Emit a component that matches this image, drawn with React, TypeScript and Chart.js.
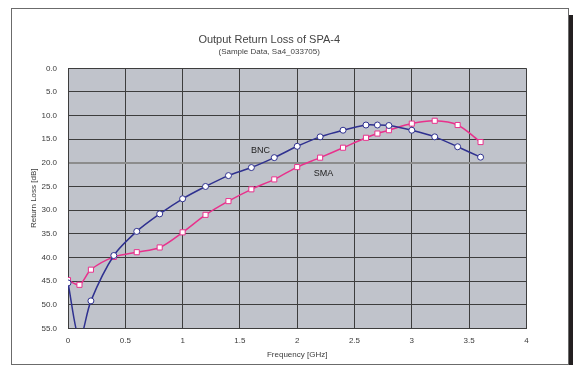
import React, { useEffect, useRef } from "react";
import { Chart, registerables } from "chart.js";

Chart.register(...registerables);

const frequencies = [0, 0.1, 0.2, 0.4, 0.6, 0.8, 1.0, 1.2, 1.4, 1.6, 1.8, 2.0, 2.2, 2.4, 2.6, 2.7, 2.8, 3.0, 3.2, 3.4, 3.6];
const bncLoss = [45.4, 57.3, 49.2, 39.6, 34.5, 30.8, 27.6, 25.0, 22.7, 21.0, 18.9, 16.5, 14.5, 13.1, 12.0, 12.0, 12.1, 13.1, 14.5, 16.6, 18.8];
const smaLoss = [44.8, 45.8, 42.6, 39.9, 38.9, 37.9, 34.7, 31.0, 28.1, 25.6, 23.5, 20.9, 18.9, 16.8, 14.7, 13.8, 13.1, 11.7, 11.1, 12.0, 15.6];
const seriesNames = ["BNC", "SMA"];
const seriesLabelAt = [
  { x: 1.68, y: 17.3 },
  { x: 2.23, y: 22.2 },
];

const FONT = "'Liberation Sans', Arial, sans-serif";
const TEXT = "#3a3a3a";

const plotBg = {
  id: "plotBg",
  beforeDraw(chart: any) {
    const { ctx, chartArea } = chart;
    ctx.save();
    ctx.fillStyle = "#c0c3cb";
    ctx.fillRect(chartArea.left, chartArea.top, chartArea.right - chartArea.left, chartArea.bottom - chartArea.top);
    ctx.restore();
  },
};

const seriesLabels = {
  id: "seriesLabels",
  afterDatasetsDraw(chart: any) {
    const { ctx, scales } = chart;
    ctx.save();
    ctx.font = `9px ${FONT}`;
    ctx.fillStyle = "#222";
    ctx.textAlign = "center";
    ctx.textBaseline = "middle";
    seriesNames.forEach((name, i) => {
      const p = seriesLabelAt[i];
      ctx.fillText(name, scales.x.getPixelForValue(p.x), scales.y.getPixelForValue(p.y));
    });
    ctx.restore();
  },
};

export default function App() {
  const ref = useRef<HTMLCanvasElement | null>(null);
  useEffect(() => {
    if (!ref.current) return;
    const chart = new Chart(ref.current, {
      type: "line",
      data: {
        datasets: [
          {
            label: seriesNames[0],
            data: frequencies.map((f, i) => ({ x: f, y: bncLoss[i] })),
            borderColor: "#2f3190",
            backgroundColor: "#ffffff",
            borderWidth: 1.5,
            pointStyle: "circle",
            pointRadius: 3,
            pointBorderWidth: 1,
            pointBorderColor: "#2f3190",
            pointBackgroundColor: "#ffffff",
            tension: 0.3,
          },
          {
            label: seriesNames[1],
            data: frequencies.map((f, i) => ({ x: f, y: smaLoss[i] })),
            borderColor: "#e8318c",
            backgroundColor: "#ffffff",
            borderWidth: 1.5,
            pointStyle: "rect",
            pointRadius: 3.6,
            pointBorderWidth: 1,
            pointBorderColor: "#e8318c",
            pointBackgroundColor: "#ffffff",
            tension: 0.3,
          },
        ],
      },
      options: {
        responsive: false,
        animation: false,
        devicePixelRatio: 1,
        layout: { padding: { left: 0, right: 41.6, top: 0, bottom: 0 } },
        elements: { line: { capBezierPoints: false } },
        plugins: {
          legend: { display: false },
          tooltip: { enabled: false },
          title: {
            display: true,
            text: "Output Return Loss of SPA-4",
            color: "#444",
            font: { family: FONT, size: 11, weight: "normal" },
            padding: { top: 24.4, bottom: 0 },
          },
          subtitle: {
            display: true,
            text: "(Sample Data, Sa4_033705)",
            color: "#444",
            font: { family: FONT, size: 8, weight: "normal" },
            padding: { top: 0, bottom: 12.1 },
          },
        },
        scales: {
          x: {
            type: "linear",
            min: 0,
            max: 4,
            ticks: {
              stepSize: 0.5,
              color: TEXT,
              font: { family: FONT, size: 8 },
              padding: 8,
              maxRotation: 0,
              callback: (v: any) => String(Number(v)),
            },
            grid: { color: "#3d3d3d", lineWidth: 1, drawTicks: false },
            border: { color: "#3d3d3d" },
            title: {
              display: true,
              text: "Frequency [GHz]",
              color: TEXT,
              font: { family: FONT, size: 8 },
              padding: { top: 0, bottom: 4 },
            },
            afterFit(scale: any) {
              scale.height = 35.7;
            },
          },
          y: {
            type: "linear",
            min: 0,
            max: 55,
            reverse: true,
            ticks: {
              stepSize: 5,
              color: TEXT,
              font: { family: FONT, size: 8 },
              padding: 11,
              callback: (v: any) => Number(v).toFixed(1),
            },
            grid: {
              color: (c: any) => (c.tick && c.tick.value === 20 ? "#8c8c8c" : "#3d3d3d"),
              lineWidth: (c: any) => (c.tick && c.tick.value === 20 ? 2 : 1),
              drawTicks: false,
            },
            border: { color: "#3d3d3d" },
            title: {
              display: true,
              text: "Return Loss [dB]",
              color: TEXT,
              font: { family: FONT, size: 8 },
              padding: { top: 17, bottom: 0 },
            },
            afterFit(scale: any) {
              scale.width = 56;
            },
          },
        },
      },
      plugins: [plotBg, seriesLabels],
    });
    return () => chart.destroy();
  }, []);

  return (
    <div
      style={{
        marginLeft: 3,
        width: 558,
        height: 357,
        boxSizing: "border-box",
        border: "1px solid #6b6b6b",
        background: "#ffffff",
        boxShadow: "9px 7px 0 #231f20",
      }}
    >
      <canvas ref={ref} width={556} height={355} style={{ display: "block", width: 556, height: 355 }} />
    </div>
  );
}
